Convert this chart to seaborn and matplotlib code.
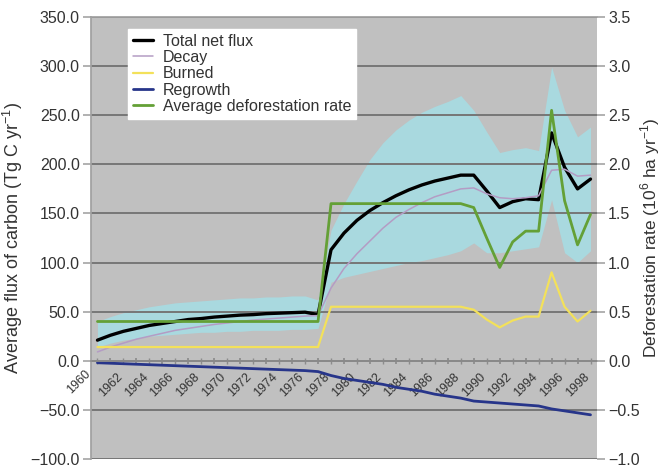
import matplotlib
matplotlib.use('Agg')
import matplotlib.pyplot as plt
from matplotlib.ticker import FuncFormatter
import seaborn as sns

# years 1961-1999 (category axis)
years = list(range(1961, 2000))

total_net_flux = [21, 26, 30, 33, 36, 38, 40, 42, 43, 44.5, 45.5, 46.5, 47, 48, 48.5, 49, 49.5, 47,
                  113, 130, 143, 153, 161, 168, 174, 179, 183, 186, 189, 189, 173, 156, 162, 165, 164,
                  232, 197, 175, 185]
decay = [9, 14, 18, 22, 25, 28, 31, 33, 35, 37, 38.5, 40, 41.5, 42.5, 43.5, 44.5, 45.5, 46,
         74, 94, 109, 122, 135, 146, 154, 161, 167, 171, 175, 176, 170, 166, 165, 166, 168,
         194, 195, 188, 189]
burned = [14, 14, 14, 14, 14, 14, 14, 14, 14, 14, 14, 14, 14, 14, 14, 14, 14, 14,
          55, 55, 55, 55, 55, 55, 55, 55, 55, 55, 55, 52, 42, 34, 41, 45, 45, 90, 55, 40, 51]
regrowth = [-2, -2.5, -3, -3.5, -4, -4.5, -5, -5.5, -6, -6.5, -7, -7.5, -8, -8.5, -9, -9.5, -10, -11,
            -15, -18, -20, -22, -24, -27, -29, -31, -34, -36, -38, -41, -42, -43, -44, -45, -46,
            -49, -51, -53, -55]
# average deforestation rate, 10^6 ha/yr (right axis)
defor_rate = [0.4, 0.4, 0.4, 0.4, 0.4, 0.4, 0.4, 0.4, 0.4, 0.4, 0.4, 0.4, 0.4, 0.4, 0.4, 0.4, 0.4, 0.4,
              1.6, 1.6, 1.6, 1.6, 1.6, 1.6, 1.6, 1.6, 1.6, 1.6, 1.6, 1.56, 1.25, 0.95, 1.21, 1.32, 1.32,
              2.55, 1.63, 1.18, 1.49]
# uncertainty band of total net flux
band_high = [40, 45, 49, 52, 55, 57, 59, 60, 61, 62, 63, 64, 64, 65, 65, 66, 66, 62,
             133, 160, 183, 205, 222, 235, 245, 253, 259, 264, 270, 255, 233, 212, 215, 217, 214,
             299, 255, 228, 238]
band_low = [14, 18, 21, 23, 25, 26, 27, 28, 29, 29, 30, 30, 31, 31, 31, 32, 32, 33,
            80, 85, 88, 91, 94, 97, 100, 102, 105, 108, 112, 120, 110, 110, 112, 114, 116,
            164, 110, 100, 112]

year_ticks = list(range(1962, 1999, 2))
left_ticks = [-100, -50, 0, 50, 100, 150, 200, 250, 300, 350]
right_ticks = [-1.0, -0.5, 0.0, 0.5, 1.0, 1.5, 2.0, 2.5, 3.0, 3.5]

sns.set_theme(style='white')
plt.rcParams['font.family'] = ['Liberation Sans', 'DejaVu Sans']
plt.rcParams['mathtext.fontset'] = 'custom'
plt.rcParams['mathtext.rm'] = 'Liberation Sans'
text_col = '#333333'

fig = plt.figure(figsize=(6.66, 4.67), dpi=100)
ax = fig.add_axes([0.1366, 0.0171, 0.7598, 0.9465])
ax.set_facecolor('#c0c0c0')

ax.fill_between(years, band_low, band_high, color='#a9d9df', lw=0, zorder=0.4)
ax.set_axisbelow(True)
ax.yaxis.grid(True, color='#767676', lw=1.4)
ax.xaxis.grid(False)

sns.lineplot(x=years, y=total_net_flux, ax=ax, color='black', lw=2.4, legend=False)
sns.lineplot(x=years, y=decay, ax=ax, color='#b49cc4', lw=1.1, legend=False)
sns.lineplot(x=years, y=burned, ax=ax, color='#f3e15a', lw=1.6, legend=False)
sns.lineplot(x=years, y=regrowth, ax=ax, color='#27358a', lw=2.0, legend=False)
main_lines = list(ax.lines)

ax2 = ax.twinx()
sns.lineplot(x=years, y=defor_rate, ax=ax2, color='#64a036', lw=2.0, legend=False)

ax.set_xlim(1960.5, 1999.5)
ax.set_ylim(-100, 350)
ax.set_yticks(left_ticks)
fmt = FuncFormatter(lambda v, p: f"{v:.1f}".replace('-', '\u2212'))
ax.yaxis.set_major_formatter(fmt)
ax.set_xticks(year_ticks)
ax.set_xticks(years, minor=True)
ax.set_xticklabels([str(y) for y in year_ticks])
ax.tick_params(axis='x', which='both', direction='inout', length=5, color='#8c8c8c', pad=5,
               bottom=True, labelrotation=45, labelsize=9, labelcolor=text_col)
plt.setp(ax.get_xticklabels(), ha='right', va='top', rotation_mode='anchor')
ax.annotate('1960', xy=(1960, 0), xytext=(0, -5), textcoords='offset points', rotation=45,
            ha='right', va='top', rotation_mode='anchor', fontsize=9, color=text_col,
            annotation_clip=False)
ax.tick_params(axis='y', left=True, length=6, color='#a8a8a8', labelsize=11.5,
               labelcolor=text_col, pad=2)
ax.spines['bottom'].set_position(('data', 0))
ax.spines['bottom'].set_color('#8c8c8c')
ax.spines['left'].set_color('#a0a0a0')
ax.spines['top'].set_color('#a0a0a0')
ax.spines['right'].set_visible(False)
ax.set_ylabel(r'Average flux of carbon (Tg C yr$^{\mathregular{-1}}$)', fontsize=13, color=text_col)
ax.yaxis.set_label_coords(-0.13, 0.5)

ax2.set_ylim(-1, 3.5)
ax2.set_yticks(right_ticks)
ax2.yaxis.set_major_formatter(fmt)
ax2.tick_params(axis='y', right=True, length=6, color='#a8a8a8', labelsize=11.5,
                labelcolor=text_col, pad=2)
for s in ax2.spines.values():
    s.set_visible(False)
ax2.set_ylabel(r'Deforestation rate (10$^{\mathregular{6}}$ ha yr$^{\mathregular{-1}}$)',
               fontsize=12.5, color=text_col, rotation=90)
ax2.yaxis.set_label_coords(1.082, 0.5)

handles = main_lines + [ax2.lines[-1]]
labels = ['Total net flux', 'Decay', 'Burned', 'Regrowth', 'Average deforestation rate']
leg = ax2.legend(handles, labels, loc='upper left', bbox_to_anchor=(0.073, 0.973),
                 borderaxespad=0, frameon=True, fancybox=False, fontsize=11.5,
                 handlelength=1.3, handletextpad=0.6, labelspacing=0.08, borderpad=0.3)
leg.get_frame().set_facecolor('white')
leg.get_frame().set_edgecolor('white')
leg.get_frame().set_alpha(1)
for t in leg.get_texts():
    t.set_color(text_col)

fig.savefig('out.png', dpi=100)
